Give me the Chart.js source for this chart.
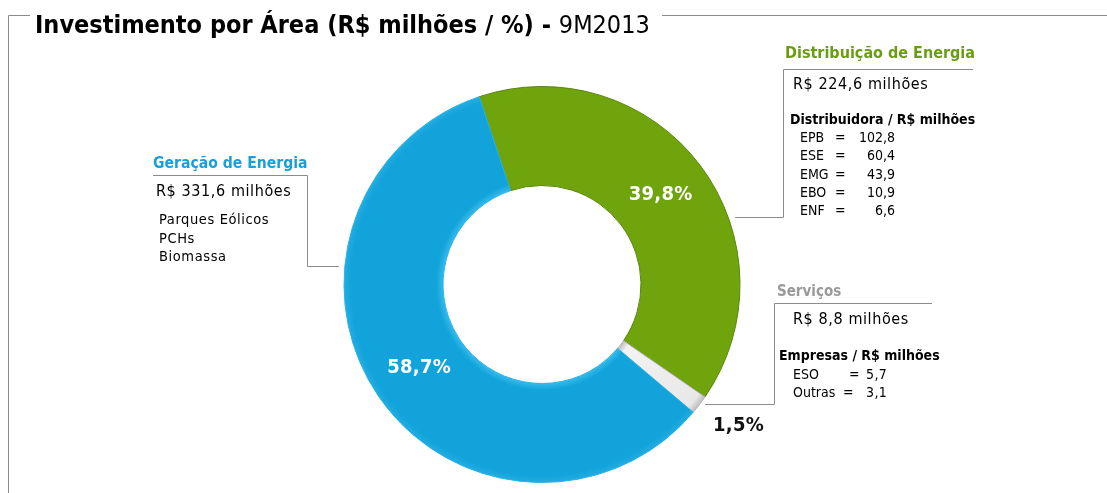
<!DOCTYPE html>
<html>
<head>
<meta charset="utf-8">
<script src="https://cdn.jsdelivr.net/npm/chart.js@4.4.1/dist/chart.umd.min.js"></script>
<style>
  html, body { margin: 0; padding: 0; background: #fff; }
  #wrap { width: 1107px; height: 493px; position: relative; }
</style>
</head>
<body>
<div id="wrap"><canvas id="investimento"></canvas></div>
<script>
// dados
var areas = ["Distribuição de Energia", "Serviços", "Geração de Energia"];
var valores = [224.6, 8.8, 331.6];
var percentuais = ["39,8%", "1,5%", "58,7%"];
var cores = ["#6fa40c", "#d4d4d4", "#12a3da"];
var coresBorda = ["#5a850a", "#b4b4b4", "#2ab2e6"];
var coresAresta = [
  ["#5e8e0a", "#6fa40c", "#6fa40c", "#65980b"],
  ["#bdbdbd", "#f2f2f2", "#e8e8e8", "#bdbdbd"],
  ["#34baec", "#12a3da", "#12a3da", "#22ade2"],
];

var valoresTexto = ["R$ 224,6 milhões", "R$ 8,8 milhões", "R$ 331,6 milhões"];
var geracaoFontes = ["Parques Eólicos", "PCHs", "Biomassa"];
var distribuidoras = ["EPB", "ESE", "EMG", "EBO", "ENF"];
var distribuidorasValores = ["102,8", "60,4", "43,9", "10,9", "6,6"];
var empresas = ["ESO", "Outras"];
var empresasValores = ["5,7", "3,1"];

var FONTE = "'DejaVu Sans Condensed', 'DejaVu Sans', sans-serif";

function shade(chart, i) {
  var ctx = chart.ctx;
  var arc = chart.getDatasetMeta(0).data[0];
  if (!arc || !arc.outerRadius) return cores[i];
  var g = ctx.createRadialGradient(arc.x, arc.y, arc.innerRadius, arc.x, arc.y, arc.outerRadius);
  var s = coresAresta[i];
  g.addColorStop(0, s[0]);
  g.addColorStop(0.07, s[1]);
  g.addColorStop(0.93, s[2]);
  g.addColorStop(1, s[3]);
  return g;
}

function texto(ctx, t, x, y, font, cor, espaco) {
  ctx.font = font;
  ctx.fillStyle = cor;
  ctx.letterSpacing = (espaco || 0) + "px";
  ctx.fillText(t, x, y);
  ctx.letterSpacing = "0px";
}

const anotacoes = {
  id: "anotacoes",
  afterDraw(chart) {
    const ctx = chart.ctx;
    const meta = chart.getDatasetMeta(0);
    ctx.save();

    // moldura
    ctx.strokeStyle = "#8c8c8c";
    ctx.lineWidth = 1;
    ctx.beginPath();
    ctx.moveTo(30, 15.5); ctx.lineTo(8.5, 15.5); ctx.lineTo(8.5, 493);
    ctx.moveTo(662, 15.5); ctx.lineTo(1107, 15.5);
    ctx.stroke();

    // titulo
    ctx.textBaseline = "alphabetic";
    ctx.textAlign = "left";
    const t1 = "Investimento por Área (R$ milhões / %) - ";
    ctx.font = "bold 25px " + FONTE;
    const w1 = ctx.measureText(t1).width;
    texto(ctx, t1, 35, 33, "bold 25px " + FONTE, "#000");
    texto(ctx, "9M2013", 35 + w1, 33, "25px " + FONTE, "#000");

    // linhas de chamada
    ctx.strokeStyle = "#8c8c8c";
    ctx.beginPath();
    ctx.moveTo(153, 175.5); ctx.lineTo(307.5, 175.5); ctx.lineTo(307.5, 266.5); ctx.lineTo(339, 266.5);
    ctx.moveTo(973, 69.5); ctx.lineTo(783.5, 69.5); ctx.lineTo(783.5, 217.5); ctx.lineTo(735, 217.5);
    ctx.moveTo(932, 303.5); ctx.lineTo(774.5, 303.5); ctx.lineTo(774.5, 404.5); ctx.lineTo(705, 404.5);
    ctx.stroke();

    // Geração
    texto(ctx, areas[2], 153, 168, "bold 15.6px " + FONTE, "#1a9fd6");
    texto(ctx, valoresTexto[2], 156, 196, "16px " + FONTE, "#000", 0.6);
    geracaoFontes.forEach((f, i) => texto(ctx, f, 159, 224 + i * 18.5, "14.5px " + FONTE, "#000", 0.6));

    // Distribuição
    texto(ctx, areas[0], 785, 58, "bold 16px " + FONTE, "#6a9e12");
    texto(ctx, valoresTexto[0], 793, 89, "16px " + FONTE, "#000", 0.6);
    texto(ctx, "Distribuidora / R$ milhões", 790, 124, "bold 14px " + FONTE, "#000");
    distribuidoras.forEach((d, i) => {
      const y = 142 + i * 18.3;
      ctx.textAlign = "left";
      texto(ctx, d, 800, y, "14px " + FONTE, "#000");
      texto(ctx, "=", 835, y, "14px " + FONTE, "#000");
      ctx.textAlign = "right";
      texto(ctx, distribuidorasValores[i], 895, y, "14px " + FONTE, "#000");
    });
    ctx.textAlign = "left";

    // Serviços
    texto(ctx, areas[1], 777, 296, "bold 15px " + FONTE, "#9a9a9a");
    texto(ctx, valoresTexto[1], 793, 324, "16px " + FONTE, "#000", 0.6);
    texto(ctx, "Empresas / R$ milhões", 779, 360, "bold 14px " + FONTE, "#000");
    const xIgual = [849, 843];
    empresas.forEach((e, i) => {
      const y = 379 + i * 18;
      texto(ctx, e, 793, y, "14px " + FONTE, "#000");
      texto(ctx, "=", xIgual[i], y, "14px " + FONTE, "#000");
      texto(ctx, empresasValores[i], 866, y, "14px " + FONTE, "#000", 0.4);
    });

    // percentuais nas fatias
    ctx.textAlign = "center";
    ctx.textBaseline = "middle";
    meta.data.forEach((arc, i) => {
      let p, cor;
      if (i === 1) {
        const mid = (arc.startAngle + arc.endAngle) / 2 - 0.03;
        const r = arc.outerRadius + 44;
        p = { x: arc.x + Math.cos(mid) * r, y: arc.y + Math.sin(mid) * r };
        cor = "#111";
      } else {
        p = arc.tooltipPosition();
        cor = "#fff";
      }
      texto(ctx, percentuais[i], p.x, p.y, "bold 20px " + FONTE, cor, 0.3);
    });
    ctx.restore();
  }
};

const data_investimento = {
  labels: areas,
  datasets: [
    {
      data: valores,
      backgroundColor: (c) => shade(c.chart, c.dataIndex),
      borderColor: coresBorda,
      borderWidth: 1,
    },
  ],
};

const config_investimento = {
  type: "doughnut",
  data: data_investimento,
  options: {
    responsive: true,
    maintainAspectRatio: false,
    animation: false,
    rotation: -18.5,
    cutout: "50%",
    layout: {
      padding: { left: 300, right: 323, top: 86, bottom: 10 },
    },
    plugins: {
      legend: { display: false },
      tooltip: { enabled: false },
      title: { display: false },
    },
  },
  plugins: [anotacoes],
};

const investimento = new Chart(document.getElementById("investimento"), config_investimento);
</script>
</body>
</html>
